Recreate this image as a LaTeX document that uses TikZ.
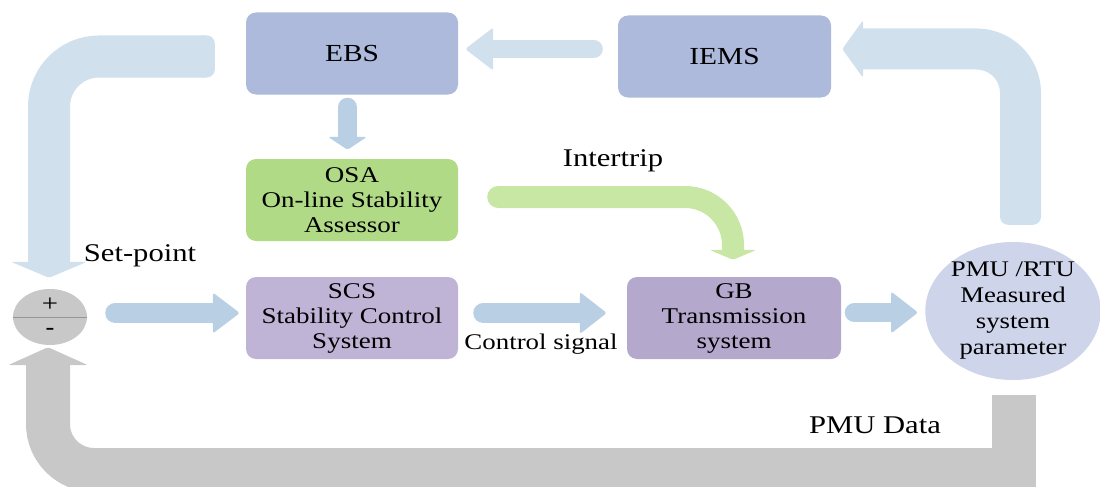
\documentclass[tikz,border=0pt]{standalone}
\usepackage{fontspec}
\setmainfont{Liberation Serif}[FakeStretch=1.2]
\usetikzlibrary{calc,shapes.geometric}

\definecolor{boxblue}{RGB}{174,186,220}
\definecolor{boxgreen}{RGB}{176,218,134}
\definecolor{boxlilac}{RGB}{191,180,214}
\definecolor{boxgb}{RGB}{181,168,205}
\definecolor{pmufill}{RGB}{206,212,234}
\definecolor{paleblue}{RGB}{208,224,237}
\definecolor{midblue}{RGB}{185,208,228}
\definecolor{palegreen}{RGB}{200,230,164}
\definecolor{feedgray}{RGB}{200,200,200}
\definecolor{sumline}{RGB}{150,150,150}

% triangular head of a block arrow: base centre, direction, half width, length, colour
\newcommand\blockhead[5]{%
  \fill[#5, shift={(#1)}, rotate=#2, rounded corners=2.5pt]
    (0,-#3) -- (#4,0) -- (0,#3) -- cycle;}

\begin{document}
\begin{tikzpicture}[x=1pt,y=-1pt,
  block/.style={rounded corners=10pt, minimum width=212pt, minimum height=82pt,
    inner sep=0pt, align=center, font=\fontsize{22.5}{25}\selectfont},
  title/.style={font=\fontsize{24.5}{27}\selectfont},
  lbltext/.style={inner sep=0pt, font=\fontsize{25.5}{28}\selectfont},
  thinshaft/.style={line width=#1, line cap=round},
  wideshaft/.style={line width=#1, line cap=butt}]

\useasboundingbox (0,0) rectangle (1100,487);

% ---- blocks ----
\node[block, title, fill=boxblue] (ebs) at (352,53.5) {EBS};
\node[block, title, fill=boxblue, minimum width=213pt] (iems) at (724.5,56.5) {IEMS};
\node[block, fill=boxgreen] (osa) at (352,200) {OSA\\On-line Stability\\Assessor};
\node[block, fill=boxlilac] (scs) at (352,318) {SCS\\Stability Control\\System};
\node[block, fill=boxgb, minimum width=214pt] (gb) at (734,318) {GB\\Transmission\\system};
\node[ellipse, fill=pmufill, minimum width=172pt, minimum height=138pt, inner sep=0pt,
  align=center, font=\fontsize{22.3}{26}\selectfont] (pmu) at (1013,311)
  {PMU /RTU\\Measured\\system\\parameter};

% summing junction
\node[ellipse, fill=feedgray, minimum width=74pt, minimum height=56pt, inner sep=0pt] (sum) at (50,317) {};
\draw[sumline, line width=0.8pt] (sum.west) -- (sum.east);
\node[inner sep=0pt, font=\fontsize{24}{26}\selectfont] (plus) at ($(sum.center)+(0,-12)$) {+};
\node[inner sep=0pt, font=\fontsize{22}{24}\selectfont\bfseries] (minus) at ($(sum.center)+(0,14)$) {-};

% ---- end points of the block arrows ----
\coordinate (spTail) at ($(ebs.west)+(-31,3)$);
\coordinate (spHead) at ($(sum.north)+(-1,-27)$);
\coordinate (ebsOut) at ($(ebs.south)+(-4.5,12.5)$);
\coordinate (osaIn) at ($(osa.north)+(-4.5,-22)$);
\coordinate (iemsOut) at ($(iems.west)+(-24,-7.5)$);
\coordinate (ebsIn) at ($(ebs.east)+(35,-4.5)$);
\coordinate (pmuUp) at ($(pmu.north)+(7.5,-17)$);
\coordinate (iemsIn) at ($(iems.east)+(32,-7.5)$);
\coordinate (osaOut) at ($(osa.east)+(40,-3)$);
\coordinate (gbTop) at ($(gb.north)+(-1,-27)$);
\coordinate (sumOut) at ($(sum.east)+(28,-4)$);
\coordinate (scsIn) at ($(scs.west)+(-33,-5)$);
\coordinate (scsOut) at ($(scs.east)+(25,-5)$);
\coordinate (gbIn) at ($(gb.west)+(-47,-5)$);
\coordinate (gbOut) at ($(gb.east)+(13,-5.5)$);
\coordinate (pmuIn) at ($(pmu.west)+(-34,1.5)$);
\coordinate (pmuDown) at ($(pmu.south)+(1,15)$);
\coordinate (sumIn) at ($(sum.south)+(-2,20)$);
\coordinate (fbRight) at (500,470);
\coordinate (fbLeft) at (620,470);

% set-point path from EBS down to the summing junction
\fill[paleblue, rounded corners=8pt] ($(spTail)+(-20,-21)$) rectangle ($(spTail)+(0,21)$);
\draw[paleblue, wideshaft=42pt, rounded corners=50pt] ($(spTail)+(-10,0)$) -| (spHead);
\blockhead{spHead}{270}{38}{16}{paleblue}

% EBS -> OSA
\draw[midblue, thinshaft=19pt] (ebsOut) -- (osaIn);
\blockhead{osaIn}{270}{19.5}{13}{midblue}

% IEMS -> EBS
\draw[paleblue, thinshaft=18pt] (iemsOut) -- (ebsIn);
\blockhead{ebsIn}{180}{21.5}{28}{paleblue}

% measurements up to IEMS
\fill[paleblue, rounded corners=8pt] ($(pmuUp)+(-20.5,-20)$) rectangle ($(pmuUp)+(20.5,0)$);
\draw[paleblue, wideshaft=41pt, rounded corners=44pt] ($(pmuUp)+(0,-10)$) |- (iemsIn);
\blockhead{iemsIn}{180}{29}{21}{paleblue}

% intertrip from OSA to GB
\fill[palegreen] (osaOut) circle[radius=11pt];
\draw[palegreen, wideshaft=22pt, rounded corners=48pt] (osaOut) -| (gbTop);
\blockhead{gbTop}{270}{23.5}{10}{palegreen}
\node[lbltext] (intertrip) at (613,161) {Intertrip};

% summing junction -> SCS
\draw[midblue, thinshaft=20pt] (sumOut) -- (scsIn);
\blockhead{scsIn}{0}{20.5}{27}{midblue}
\node[lbltext] (setpoint) at (140,256) {Set-point};

% SCS -> GB
\draw[midblue, thinshaft=20pt] (scsOut) -- (gbIn);
\blockhead{gbIn}{0}{21}{27}{midblue}
\node[inner sep=0pt, font=\fontsize{22.4}{26}\selectfont] (ctrl) at (541,344) {Control signal};

% GB -> PMU
\draw[midblue, thinshaft=19pt] (gbOut) -- (pmuIn);
\blockhead{pmuIn}{0}{21}{27}{midblue}

% PMU data feedback to the summing junction
\draw[feedgray, wideshaft=44pt, line join=miter] (pmuDown) |- (fbRight);
\draw[feedgray, wideshaft=44pt, rounded corners=46pt] (fbLeft) -| (sumIn);
\blockhead{sumIn}{90}{40}{18}{feedgray}
\node[lbltext] (pmudata) at (875,425) {PMU Data};

\end{tikzpicture}
\end{document}
